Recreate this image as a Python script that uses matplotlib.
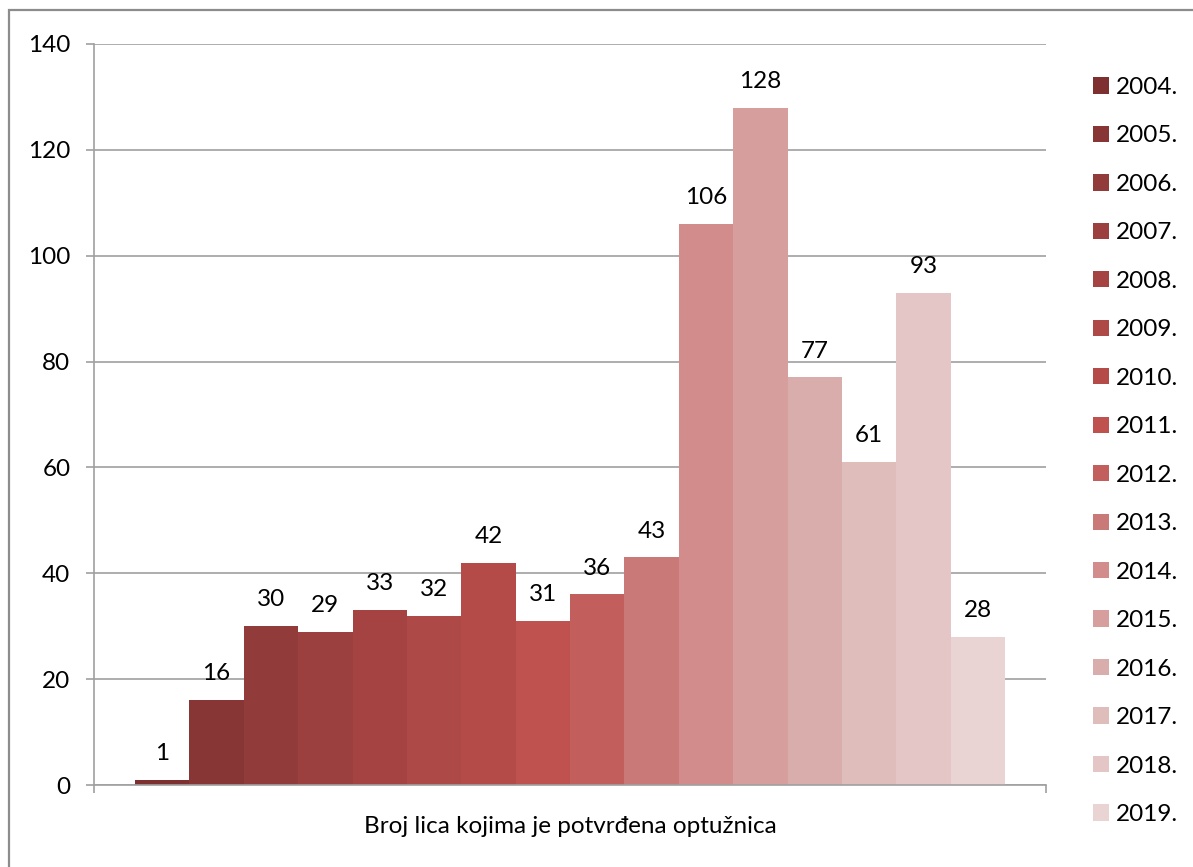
import matplotlib
matplotlib.use("Agg")
from matplotlib import pyplot as plt
from matplotlib.patches import Rectangle

plt.rcParams["font.family"] = ["Lato", "DejaVu Sans"]

# data
years = ["2004.", "2005.", "2006.", "2007.", "2008.", "2009.", "2010.", "2011.",
         "2012.", "2013.", "2014.", "2015.", "2016.", "2017.", "2018.", "2019."]
counts = [1, 16, 30, 29, 33, 32, 42, 31, 36, 43, 106, 128, 77, 61, 93, 28]
colors = ["#7E3030", "#873535", "#913B3A", "#9B403F", "#A44342", "#AD4946",
          "#B44B48", "#BF514E", "#C25F5C", "#C97978", "#D18C8B", "#D69E9D",
          "#DAADAD", "#DFBDBB", "#E4C6C7", "#E9D3D3"]
x_label = "Broj lica kojima je potvrđena optužnica"
y_ticks = [0, 20, 40, 60, 80, 100, 120, 140]

W, H = 1193, 867
fig = plt.figure(figsize=(W / 100, H / 100), dpi=100)
ax = fig.add_axes([94 / W, 1 - 785 / H, (1046 - 94) / W, (785 - 44) / H])

grey = "#A0A0A0"
fs = 17.5

# outer chart border (only left and top are in frame)
fig.patches.append(Rectangle((8.5 / W, -0.2), 1.5, 1.2 - 9.5 / H,
                             transform=fig.transFigure, fill=False,
                             edgecolor="#8C8C8C", linewidth=1.6))

for i, (yr, v, c) in enumerate(zip(years, counts, colors)):
    ax.bar(i, v, width=1.0, color=c, label=yr, zorder=2)
    ax.annotate(str(v), (i, v), xytext=(0, 19), textcoords="offset points",
                ha="center", va="center", fontsize=fs, color="black")

margin = 41 / 54.375
x0, x1 = -0.5 - margin, 15.5 + margin
ax.set_xlim(x0, x1)
ax.set_ylim(0, 140)
ax.set_yticks(y_ticks)
ax.set_xticks([x0, x1])
ax.set_xticklabels([])
ax.yaxis.grid(True, color=grey, linewidth=1.2, zorder=0)
ax.set_axisbelow(True)

for s in ["top", "right"]:
    ax.spines[s].set_visible(False)
for s in ["left", "bottom"]:
    ax.spines[s].set_color(grey)
    ax.spines[s].set_linewidth(1.2)
    ax.spines[s].set_zorder(3)

ax.tick_params(axis="y", direction="out", length=6, width=1.2, color=grey,
               labelsize=fs, pad=11)
ax.tick_params(axis="x", direction="out", length=5.5, width=1.2, color=grey)
ax.set_xlabel(x_label, fontsize=fs, labelpad=13)

ax.legend(loc="upper left", bbox_to_anchor=(1093 / W, 1 - 77 / H),
          bbox_transform=fig.transFigure, frameon=False, fontsize=fs,
          handlelength=0.65, handleheight=0.65, handletextpad=0.3,
          labelspacing=1.13, borderpad=0, borderaxespad=0)

fig.savefig("out.png", dpi=100)
